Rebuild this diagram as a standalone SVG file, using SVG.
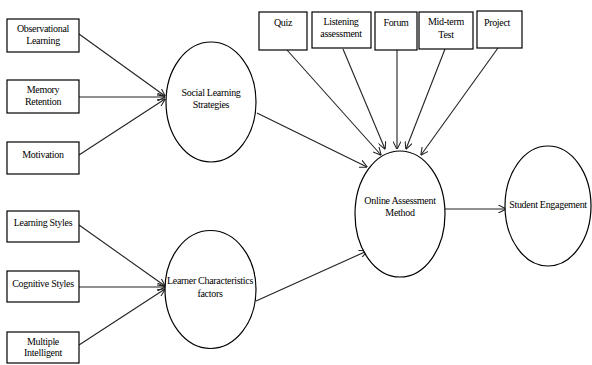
<svg xmlns="http://www.w3.org/2000/svg" width="592" height="365" viewBox="0 0 592 365">
<defs>
<style>
.box{fill:#fff;stroke:#000;stroke-width:1.2}
.ell{fill:#fff;stroke:#000;stroke-width:1.2}
.lbl{font-family:"Liberation Serif","Times New Roman",serif;font-size:10px;fill:#000;text-anchor:middle;letter-spacing:-0.3px}
.con{stroke:#222;stroke-width:1.1;fill:none;marker-end:url(#ah)}
</style>
<marker id="ah" viewBox="0 0 10 10" refX="9.5" refY="5" markerWidth="8" markerHeight="8" markerUnits="userSpaceOnUse" orient="auto">
<path d="M0,0 L10,5 L0,10" fill="none" stroke="#222" stroke-width="1.3"/>
</marker>
</defs>
<rect width="592" height="365" fill="#fff"/>
<g id="connectors">
<line class="con" x1="79" y1="34" x2="165" y2="96"/>
<line class="con" x1="79" y1="97" x2="165" y2="97"/>
<line class="con" x1="79" y1="155" x2="165" y2="99"/>
<line class="con" x1="79" y1="225" x2="165" y2="286"/>
<line class="con" x1="79" y1="287" x2="165" y2="287"/>
<line class="con" x1="79" y1="345" x2="165" y2="289"/>
<line class="con" x1="287" y1="50" x2="381" y2="155"/>
<line class="con" x1="343" y1="49" x2="385" y2="149"/>
<line class="con" x1="397" y1="50" x2="397" y2="149"/>
<line class="con" x1="445" y1="49" x2="406" y2="149"/>
<line class="con" x1="498" y1="48" x2="421" y2="155"/>
<line class="con" x1="257" y1="113" x2="367" y2="167"/>
<line class="con" x1="256" y1="301" x2="367" y2="251"/>
<line class="con" x1="445" y1="209" x2="506" y2="209"/>
</g>
<g id="observational"><rect class="box" x="7" y="19" width="72" height="33"/><text class="lbl" x="43" y="32">Observational</text><text class="lbl" x="43" y="44">Learning</text></g>
<g id="memory"><rect class="box" x="7" y="80" width="72" height="33"/><text class="lbl" x="43" y="93">Memory</text><text class="lbl" x="43" y="105">Retention</text></g>
<g id="motivation"><rect class="box" x="7" y="142" width="72" height="32"/><text class="lbl" x="43" y="158">Motivation</text></g>
<g id="learningstyles"><rect class="box" x="7" y="211" width="72" height="31"/><text class="lbl" x="43" y="226">Learning Styles</text></g>
<g id="cognitive"><rect class="box" x="7" y="271" width="72" height="31"/><text class="lbl" x="43" y="287">Cognitive Styles</text></g>
<g id="multiple"><rect class="box" x="7" y="332" width="72" height="31"/><text class="lbl" x="43" y="345">Multiple</text><text class="lbl" x="43" y="356">Intelligent</text></g>
<g id="social"><ellipse class="ell" cx="211" cy="102" rx="45" ry="60"/><text class="lbl" x="211" y="96">Social Learning</text><text class="lbl" x="211" y="108">Strategies</text></g>
<g id="learner"><ellipse class="ell" cx="210.5" cy="289.5" rx="45.5" ry="59"/><text class="lbl" x="210" y="284">Learner Characteristics</text><text class="lbl" x="210" y="297">factors</text></g>
<g id="quiz"><rect class="box" x="259" y="12" width="48" height="38"/><text class="lbl" x="283" y="26">Quiz</text></g>
<g id="listening"><rect class="box" x="312" y="12" width="59" height="36"/><text class="lbl" x="341" y="25">Listening</text><text class="lbl" x="341" y="37">assessment</text></g>
<g id="forum"><rect class="box" x="375" y="12" width="42" height="38"/><text class="lbl" x="396" y="26">Forum</text></g>
<g id="midterm"><rect class="box" x="419" y="12" width="54" height="37"/><text class="lbl" x="446" y="25">Mid-term</text><text class="lbl" x="446" y="38">Test</text></g>
<g id="project"><rect class="box" x="477" y="11" width="45" height="37"/><text class="lbl" x="497" y="26">Project</text></g>
<g id="online"><ellipse class="ell" cx="400" cy="214" rx="45" ry="63"/><text class="lbl" x="400" y="204">Online Assessment</text><text class="lbl" x="400" y="216">Method</text></g>
<g id="student"><ellipse class="ell" cx="548" cy="206" rx="43" ry="60"/><text class="lbl" x="548" y="208">Student Engagement</text></g>
</svg>
